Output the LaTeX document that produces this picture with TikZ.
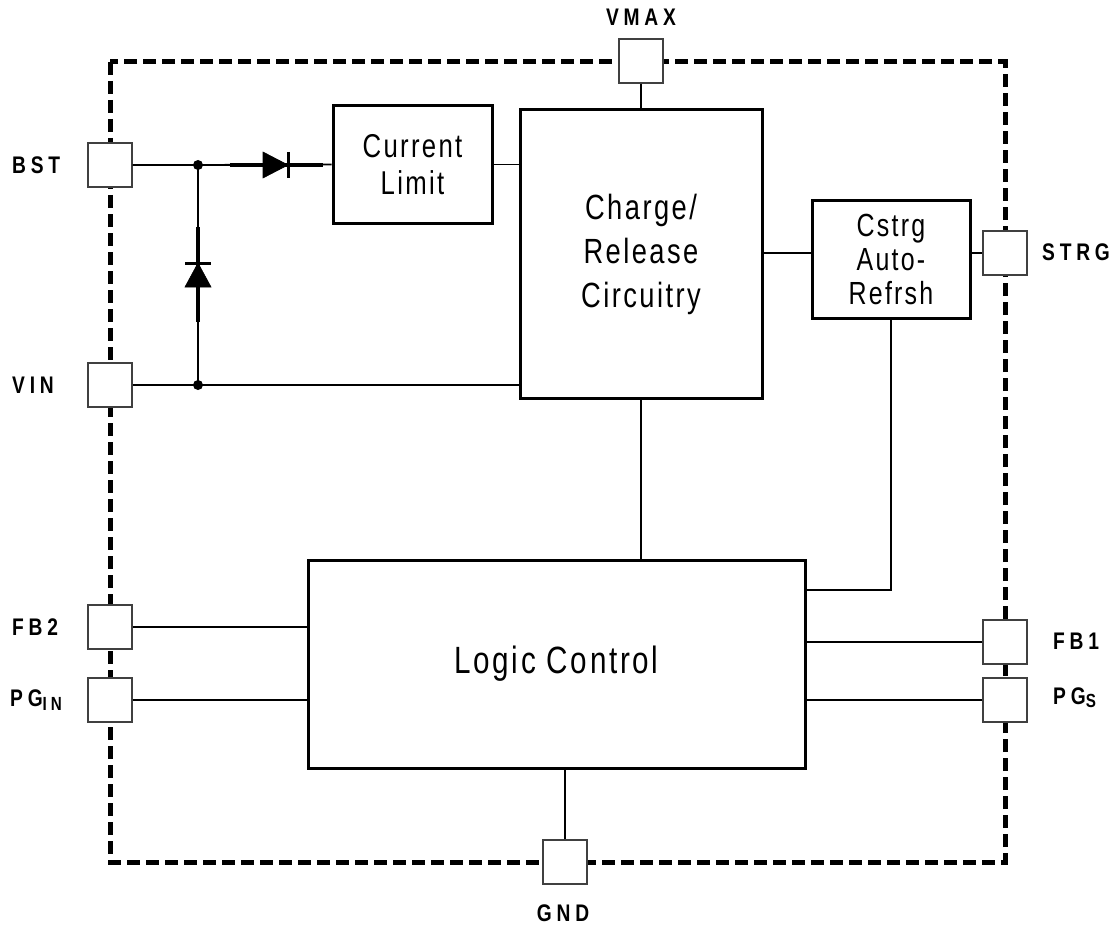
\documentclass[tikz,border=0pt]{standalone}
\usepackage{fontspec}
\setmainfont{Liberation Sans}
\newfontfamily\boxfont{Liberation Sans}[FakeStretch=0.78,LetterSpace=7]
\newfontfamily\pinfont{Liberation Sans}[FakeStretch=0.8,LetterSpace=20]
\begin{document}
\begin{tikzpicture}[x=1pt,y=-1pt,
    padbox/.style={draw=black!75,line width=1.4pt,fill=white,minimum size=44pt,inner sep=0pt},
    ckbox/.style={draw,line width=3pt,align=center,inner sep=0pt,font=\boxfont\fontsize{33}{37}\selectfont},
    wire/.style={line width=1.8pt},
    pinlabel/.style={font=\pinfont\bfseries\fontsize{24}{26}\selectfont,inner sep=0pt},
    diode/.style={fill=black,line width=0.6pt}]

    % Fix the page size to the reference
    \useasboundingbox (0,0) rectangle (1113,928);

    % Dashed chip outline
    \def\xl{110}   % left edge of the chip
    \def\xr{1005}  % right edge of the chip
    \draw[line width=5pt,dash pattern=on 13pt off 6pt]
      (\xl,62) rectangle (\xr,862);

    % Functional blocks
    \node[ckbox,minimum width=159pt,minimum height=117pt] (curlim) at (412.5,164.5)
      {Current\\Limit};
    \node[ckbox,minimum width=242pt,minimum height=288pt,
      font=\boxfont\fontsize{35}{44}\selectfont] (charge) at (641,254)
      {Charge/\\Release\\Circuitry};
    \node[ckbox,minimum width=158pt,minimum height=117pt,
      font=\boxfont\fontsize{32}{34}\selectfont] (cstrg) at (891,259.5)
      {Cstrg\\Auto-\\Refrsh};
    \node[ckbox,minimum width=497pt,minimum height=208pt,
      font=\boxfont\fontsize{38}{40}\selectfont] (logic) at (556.5,664)
      {Logic Control};

    % Pads sitting on the outline
    \node[padbox] (vmax) at (641,61) {};
    \node[padbox] (bst)  at (\xl,165) {};
    \node[padbox] (vin)  at (\xl,385) {};
    \node[padbox] (fbtwo) at (\xl,627) {};
    \node[padbox] (pgin) at (\xl,700) {};
    \node[padbox] (strg) at (\xr,253) {};
    \node[padbox] (fbone) at (\xr,642) {};
    \node[padbox] (pgs)  at (\xr,700) {};
    \node[padbox] (gnd)  at (565,862) {};

    % Pad names
    \node[pinlabel] (lvmax) at (641,17) {VMAX};
    \node[pinlabel,anchor=west] (lbst) at (12,165) {BST};
    \node[pinlabel,anchor=west] (lvin) at (12,385) {VIN};
    \node[pinlabel,anchor=west] (lfbtwo) at (12,627) {FB2};
    \node[pinlabel,anchor=west] (lpgin) at (10,700)
      {PG\raisebox{-4pt}{\fontsize{19}{19}\selectfont IN}};
    \node[pinlabel,anchor=west] (lstrg) at (1042,252) {STRG};
    \node[pinlabel,anchor=west] (lfbone) at (1053,641) {FB1};
    \node[pinlabel,anchor=west] (lpgs) at (1053,698)
      {PG\raisebox{-3pt}{\fontsize{19}{19}\selectfont S}};
    \node[pinlabel] (lgnd) at (563,913) {GND};

    % Junctions between BST and VIN
    \coordinate (jbst) at (198,165);
    \coordinate (jvin) at (198,385);
    \fill (jbst) circle (5pt) (jvin) circle (5pt);

    % Wires
    \draw[wire] (bst.east) -- (jbst) -- (curlim.west);
    \draw[wire] (jbst) -- (jvin);
    \draw[wire] (vin.east) -- (vin.east -| charge.west);
    \draw[wire] (curlim.east) -- (curlim.east -| charge.west);
    \draw[wire] (vmax.south) -- (vmax.south |- charge.north);
    \draw[wire] (charge.east |- strg.west) -- (cstrg.west |- strg.west);
    \draw[wire] (cstrg.east |- strg.west) -- (strg.west);
    \draw[wire] (charge.south) -- (charge.south |- logic.north);
    \draw[wire] (cstrg.south) |- ([yshift=74pt]logic.east);
    \draw[wire] (fbtwo.east) -- (fbtwo.east -| logic.west);
    \draw[wire] (pgin.east) -- (pgin.east -| logic.west);
    \draw[wire] (fbone.west) -- (fbone.west -| logic.east);
    \draw[wire] (pgs.west) -- (pgs.west -| logic.east);
    \draw[wire] (gnd.north) -- (gnd.north |- logic.south);

    % Series diode towards the current limit
    \draw[line width=3.5pt] (230,165) -- (323,165);
    \draw[diode] (263,152) -- (288,165) -- (263,178) -- cycle;
    \draw[line width=3pt] (288,152) -- (288,178);

    % Diode from VIN up to BST
    \draw[line width=3.5pt] (198,227) -- (198,322);
    \draw[diode] (185,287) -- (211,287) -- (198,263) -- cycle;
    \draw[line width=3pt] (185,263) -- (211,263);

\end{tikzpicture}
\end{document}
